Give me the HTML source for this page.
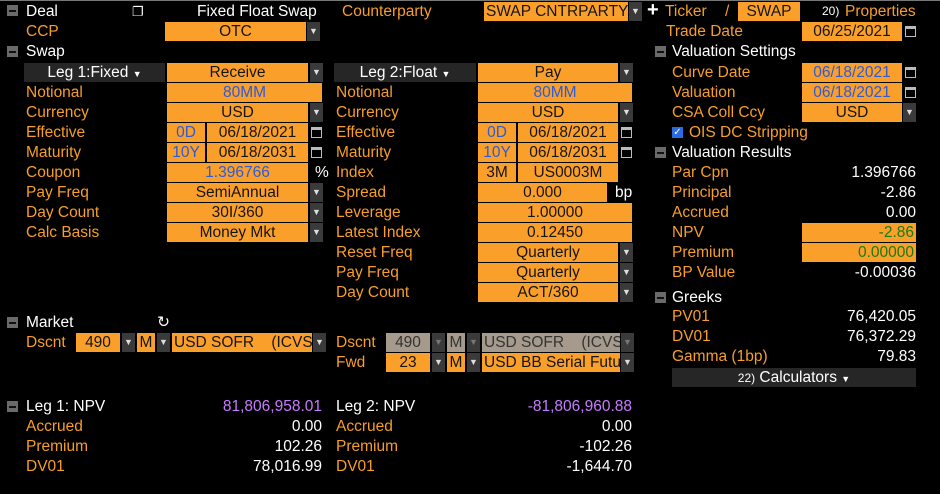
<!DOCTYPE html>
<html><head><meta charset="utf-8"><style>
body{margin:0;background:#000;width:940px;height:494px;overflow:hidden;position:relative;font-family:"Liberation Sans",sans-serif;font-size:15.5px}
#top{position:absolute;left:0;top:0;width:940px;height:1px;background:#777}
.a{position:absolute;height:19px;line-height:19px;white-space:nowrap}
.o{color:#f79d2a}.w{color:#fff}.v{color:#fff;text-align:right}
.f{background:#fb9f2b;color:#151515;text-align:center}
.b{color:#2d5bd6}.g{color:#1a7a10}
.dd{background:#3a3a3a;color:#ddd;font-size:9px;text-align:center;width:13px}
.m{width:11px;height:11px;background:#6a6a6a}
.m:after{content:"";position:absolute;left:2px;top:5px;width:7px;height:2px;background:#111}
.cal{width:11px;height:11px;margin-top:4px;border:1px solid #bbb;box-sizing:border-box;border-top:3px solid #bbb}
.leg{background:#262626;color:#fff;text-align:center}
.gr{background:#a59a8c;color:#333;text-align:center}
.gd{background:#3a3a3a;color:#777;font-size:9px;text-align:center;width:13px}
</style></head><body>
<div id="top"></div>
<!-- Row 1 -->
<div class="a m" style="left:7px;top:5px"></div>
<div class="a w" style="left:26px;top:2px">Deal</div>
<div class="a w" style="left:132px;top:2px;font-size:13px">❐</div>
<div class="a w" style="left:197px;top:2px">Fixed Float Swap</div>
<div class="a o" style="left:342px;top:2px">Counterparty</div>
<div class="a f" style="left:484px;top:2px;width:144px;text-align:left;padding-left:2px;box-sizing:border-box">SWAP CNTRPARTY</div>
<div class="a dd" style="left:629px;top:2px">▼</div>
<div class="a w" style="left:647px;top:1px;font-size:20px;font-weight:bold">+</div>
<div class="a o" style="left:665px;top:2px">Ticker</div>
<div class="a o" style="left:725px;top:2px">/</div>
<div class="a f" style="left:738px;top:2px;width:62px">SWAP</div>
<div class="a w" style="left:822px;top:2px;font-size:12px">20)</div>
<div class="a o" style="left:845px;top:2px">Properties</div>
<!-- Row 2 -->
<div class="a o" style="left:26px;top:22px">CCP</div>
<div class="a f" style="left:165px;top:22px;width:141px">OTC</div>
<div class="a dd" style="left:307px;top:22px">▼</div>
<div class="a o" style="left:666px;top:22px">Trade Date</div>
<div class="a f" style="left:802px;top:22px;width:100px">06/25/2021</div>
<div class="a cal" style="left:905px;top:22px"></div>
<!-- Row 3 -->
<div class="a m" style="left:7px;top:46px"></div>
<div class="a w" style="left:26px;top:42px">Swap</div>
<div class="a m" style="left:655px;top:46px"></div>
<div class="a w" style="left:672px;top:42px">Valuation Settings</div>
<!-- Row 4 -->
<div class="a leg" style="left:24px;top:63px;width:141px">Leg 1:Fixed <span style="font-size:9px">▼</span></div>
<div class="a f" style="left:167px;top:63px;width:141px">Receive</div>
<div class="a dd" style="left:310px;top:63px">▼</div>
<div class="a leg" style="left:334px;top:63px;width:142px">Leg 2:Float <span style="font-size:9px">▼</span></div>
<div class="a f" style="left:478px;top:63px;width:140px">Pay</div>
<div class="a dd" style="left:620px;top:63px">▼</div>
<div class="a o" style="left:672px;top:63px">Curve Date</div>
<div class="a f b" style="left:802px;top:63px;width:100px">06/18/2021</div>
<div class="a cal" style="left:905px;top:63px"></div>
<!-- Row 5 -->
<div class="a o" style="left:26px;top:83px">Notional</div>
<div class="a f b" style="left:167px;top:83px;width:155px">80MM</div>
<div class="a o" style="left:336px;top:83px">Notional</div>
<div class="a f b" style="left:478px;top:83px;width:154px">80MM</div>
<div class="a o" style="left:672px;top:83px">Valuation</div>
<div class="a f b" style="left:802px;top:83px;width:100px">06/18/2021</div>
<div class="a cal" style="left:905px;top:83px"></div>
<!-- Row 6 -->
<div class="a o" style="left:26px;top:103px">Currency</div>
<div class="a f" style="left:167px;top:103px;width:141px">USD</div>
<div class="a dd" style="left:310px;top:103px">▼</div>
<div class="a o" style="left:336px;top:103px">Currency</div>
<div class="a f" style="left:478px;top:103px;width:140px">USD</div>
<div class="a dd" style="left:620px;top:103px">▼</div>
<div class="a o" style="left:672px;top:103px">CSA Coll Ccy</div>
<div class="a f" style="left:802px;top:103px;width:100px">USD</div>
<div class="a dd" style="left:903px;top:103px">▼</div>
<!-- Row 7 -->
<div class="a o" style="left:26px;top:123px">Effective</div>
<div class="a f b" style="left:167px;top:123px;width:38px">0D</div>
<div class="a f" style="left:207px;top:123px;width:101px">06/18/2021</div>
<div class="a cal" style="left:311px;top:123px"></div>
<div class="a o" style="left:336px;top:123px">Effective</div>
<div class="a f b" style="left:478px;top:123px;width:38px">0D</div>
<div class="a f" style="left:518px;top:123px;width:100px">06/18/2021</div>
<div class="a cal" style="left:621px;top:123px"></div>
<div class="a" style="left:672px;top:127px;width:11px;height:11px;background:#2a6be0;color:#fff;font-size:10px;line-height:11px;text-align:center">✓</div>
<div class="a o" style="left:689px;top:123px">OIS DC Stripping</div>
<!-- Row 8 -->
<div class="a o" style="left:26px;top:143px">Maturity</div>
<div class="a f b" style="left:167px;top:143px;width:38px">10Y</div>
<div class="a f" style="left:207px;top:143px;width:101px">06/18/2031</div>
<div class="a cal" style="left:311px;top:143px"></div>
<div class="a o" style="left:336px;top:143px">Maturity</div>
<div class="a f b" style="left:478px;top:143px;width:38px">10Y</div>
<div class="a f" style="left:518px;top:143px;width:100px">06/18/2031</div>
<div class="a cal" style="left:621px;top:143px"></div>
<div class="a m" style="left:655px;top:147px"></div>
<div class="a w" style="left:672px;top:143px">Valuation Results</div>
<!-- Row 9 -->
<div class="a o" style="left:26px;top:163px">Coupon</div>
<div class="a f b" style="left:167px;top:163px;width:141px">1.396766</div>
<div class="a w" style="left:315px;top:163px">%</div>
<div class="a o" style="left:336px;top:163px">Index</div>
<div class="a f" style="left:478px;top:163px;width:38px">3M</div>
<div class="a f" style="left:518px;top:163px;width:100px">US0003M</div>
<div class="a o" style="left:672px;top:163px">Par Cpn</div>
<div class="a v" style="left:800px;top:163px;width:116px">1.396766</div>
<!-- Row 10 -->
<div class="a o" style="left:26px;top:183px">Pay Freq</div>
<div class="a f" style="left:167px;top:183px;width:141px">SemiAnnual</div>
<div class="a dd" style="left:310px;top:183px">▼</div>
<div class="a o" style="left:336px;top:183px">Spread</div>
<div class="a f" style="left:478px;top:183px;width:129px">0.000</div>
<div class="a w" style="left:615px;top:183px">bp</div>
<div class="a o" style="left:672px;top:183px">Principal</div>
<div class="a v" style="left:800px;top:183px;width:116px">-2.86</div>
<!-- Row 11 -->
<div class="a o" style="left:26px;top:203px">Day Count</div>
<div class="a f" style="left:167px;top:203px;width:141px">30I/360</div>
<div class="a dd" style="left:310px;top:203px">▼</div>
<div class="a o" style="left:336px;top:203px">Leverage</div>
<div class="a f" style="left:478px;top:203px;width:154px">1.00000</div>
<div class="a o" style="left:672px;top:203px">Accrued</div>
<div class="a v" style="left:800px;top:203px;width:116px">0.00</div>
<!-- Row 12 -->
<div class="a o" style="left:26px;top:223px">Calc Basis</div>
<div class="a f" style="left:167px;top:223px;width:141px">Money Mkt</div>
<div class="a dd" style="left:310px;top:223px">▼</div>
<div class="a o" style="left:336px;top:223px">Latest Index</div>
<div class="a f" style="left:478px;top:223px;width:154px">0.12450</div>
<div class="a o" style="left:672px;top:223px">NPV</div>
<div class="a f g" style="left:802px;top:223px;width:114px;text-align:right;padding-right:2px;box-sizing:border-box">-2.86</div>
<!-- Row 13 -->
<div class="a o" style="left:336px;top:243px">Reset Freq</div>
<div class="a f" style="left:478px;top:243px;width:140px">Quarterly</div>
<div class="a dd" style="left:620px;top:243px">▼</div>
<div class="a o" style="left:672px;top:243px">Premium</div>
<div class="a f g" style="left:802px;top:243px;width:114px;text-align:right;padding-right:2px;box-sizing:border-box">0.00000</div>
<!-- Row 14 -->
<div class="a o" style="left:336px;top:263px">Pay Freq</div>
<div class="a f" style="left:478px;top:263px;width:140px">Quarterly</div>
<div class="a dd" style="left:620px;top:263px">▼</div>
<div class="a o" style="left:672px;top:263px">BP Value</div>
<div class="a v" style="left:800px;top:263px;width:116px">-0.00036</div>
<!-- Row 15 -->
<div class="a o" style="left:336px;top:283px">Day Count</div>
<div class="a f" style="left:478px;top:283px;width:140px">ACT/360</div>
<div class="a dd" style="left:620px;top:283px">▼</div>
<!-- Greeks -->
<div class="a m" style="left:655px;top:292px"></div>
<div class="a w" style="left:672px;top:288px">Greeks</div>
<div class="a o" style="left:672px;top:307px">PV01</div>
<div class="a v" style="left:780px;top:307px;width:136px">76,420.05</div>
<div class="a o" style="left:672px;top:327px">DV01</div>
<div class="a v" style="left:780px;top:327px;width:136px">76,372.29</div>
<div class="a o" style="left:672px;top:347px">Gamma (1bp)</div>
<div class="a v" style="left:780px;top:347px;width:136px">79.83</div>
<div class="a leg" style="left:672px;top:368px;width:244px"><span style="font-size:12px">22)</span> Calculators <span style="font-size:9px">▼</span></div>
<!-- Market -->
<div class="a m" style="left:7px;top:317px"></div>
<div class="a w" style="left:26px;top:313px">Market</div>
<div class="a w" style="left:157px;top:313px">↻</div>
<div class="a o" style="left:26px;top:333px">Dscnt</div>
<div class="a f" style="left:76px;top:333px;width:44px">490</div>
<div class="a dd" style="left:122px;top:333px">▼</div>
<div class="a f" style="left:137px;top:333px;width:18px">M</div>
<div class="a dd" style="left:157px;top:333px">▼</div>
<div class="a f" style="left:172px;top:333px;width:140px;text-align:left;padding-left:2px;box-sizing:border-box;overflow:hidden">USD SOFR &nbsp;&nbsp;&nbsp;(ICVS</div>
<div class="a dd" style="left:313px;top:333px">▼</div>
<div class="a o" style="left:336px;top:333px">Dscnt</div>
<div class="a gr" style="left:386px;top:333px;width:44px">490</div>
<div class="a gd" style="left:432px;top:333px">▼</div>
<div class="a gr" style="left:447px;top:333px;width:18px">M</div>
<div class="a gd" style="left:467px;top:333px">▼</div>
<div class="a gr" style="left:482px;top:333px;width:138px;text-align:left;padding-left:2px;box-sizing:border-box;overflow:hidden">USD SOFR &nbsp;&nbsp;&nbsp;(ICVS</div>
<div class="a gd" style="left:621px;top:333px">▼</div>
<div class="a o" style="left:336px;top:353px">Fwd</div>
<div class="a f" style="left:386px;top:353px;width:44px">23</div>
<div class="a dd" style="left:432px;top:353px">▼</div>
<div class="a f" style="left:447px;top:353px;width:18px">M</div>
<div class="a dd" style="left:467px;top:353px">▼</div>
<div class="a f" style="left:482px;top:353px;width:138px;text-align:left;padding-left:2px;box-sizing:border-box;overflow:hidden">USD BB Serial Futu</div>
<div class="a dd" style="left:621px;top:353px">▼</div>
<!-- Leg results -->
<div class="a m" style="left:7px;top:401px"></div>
<div class="a w" style="left:26px;top:397px">Leg 1: NPV</div>
<div class="a v" style="left:180px;top:397px;width:142px;color:#c67cff">81,806,958.01</div>
<div class="a o" style="left:26px;top:417px">Accrued</div>
<div class="a v" style="left:180px;top:417px;width:142px">0.00</div>
<div class="a o" style="left:26px;top:437px">Premium</div>
<div class="a v" style="left:180px;top:437px;width:142px">102.26</div>
<div class="a o" style="left:26px;top:457px">DV01</div>
<div class="a v" style="left:180px;top:457px;width:142px">78,016.99</div>
<div class="a w" style="left:336px;top:397px">Leg 2: NPV</div>
<div class="a v" style="left:480px;top:397px;width:152px;color:#c67cff">-81,806,960.88</div>
<div class="a o" style="left:336px;top:417px">Accrued</div>
<div class="a v" style="left:480px;top:417px;width:152px">0.00</div>
<div class="a o" style="left:336px;top:437px">Premium</div>
<div class="a v" style="left:480px;top:437px;width:152px">-102.26</div>
<div class="a o" style="left:336px;top:457px">DV01</div>
<div class="a v" style="left:480px;top:457px;width:152px">-1,644.70</div>
</body></html>
